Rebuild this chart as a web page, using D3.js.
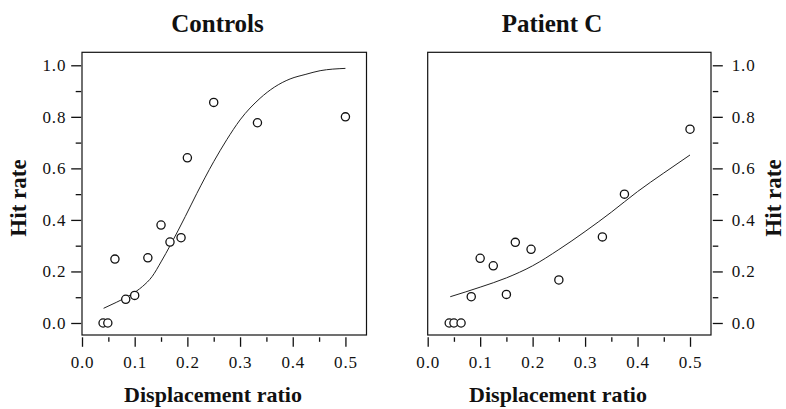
<!DOCTYPE html>
<html><head><meta charset="utf-8">
<script src="https://cdn.jsdelivr.net/npm/d3@7"></script>
<style>
body{margin:0;background:#fff;}
svg{display:block;font-family:"Liberation Serif","Times New Roman",serif;}
</style></head>
<body><svg id="c" width="786" height="409"></svg>
<script>
// ---- data ----
const panelTitles = ["Controls", "Patient C"];
const xLabel = "Displacement ratio";
const yLabel = "Hit rate";
const xMajorTicks = [0, 0.1, 0.2, 0.3, 0.4, 0.5];
const xMinorTicks = [0.05, 0.15, 0.25, 0.35, 0.45];
const yMajorTicks = [0, 0.2, 0.4, 0.6, 0.8, 1.0];
const yMinorTicks = [0.1, 0.3, 0.5, 0.7, 0.9];

const controlsX = [0.040, 0.049, 0.0625, 0.083, 0.100, 0.125, 0.150, 0.167, 0.188, 0.200, 0.250, 0.333, 0.500];
const controlsY = [0.0, 0.0, 0.248, 0.092, 0.107, 0.253, 0.380, 0.314, 0.331, 0.641, 0.856, 0.777, 0.800];
const controlsFitX = [0.041, 0.065, 0.092, 0.115, 0.133, 0.150, 0.168, 0.196, 0.218, 0.250, 0.275, 0.300, 0.338, 0.365, 0.395, 0.425, 0.452, 0.500];
const controlsFitY = [0.057, 0.080, 0.109, 0.142, 0.180, 0.237, 0.303, 0.413, 0.503, 0.626, 0.712, 0.788, 0.872, 0.915, 0.947, 0.965, 0.979, 0.988];

const patientX = [0.041, 0.050, 0.0636, 0.083, 0.100, 0.125, 0.150, 0.167, 0.197, 0.250, 0.333, 0.375, 0.500];
const patientY = [0.0, 0.0, 0.0, 0.102, 0.251, 0.222, 0.111, 0.313, 0.286, 0.167, 0.334, 0.500, 0.752];
const patientFitX = [0.043, 0.100, 0.150, 0.200, 0.250, 0.300, 0.350, 0.400, 0.450, 0.500];
const patientFitY = [0.102, 0.139, 0.175, 0.222, 0.285, 0.355, 0.430, 0.510, 0.582, 0.652];

const xDomain = [0, 0.54];
const yDomain = [-0.0466, 1.0504];

// ---- layout ----
const svg = d3.select("#c");
const panels = [
  {title: panelTitles[0], left: 82, right: 366.5, titleX: 217.5, xlabX: 213, side: "left",
   ptsX: controlsX, ptsY: controlsY, fitX: controlsFitX, fitY: controlsFitY},
  {title: panelTitles[1], left: 427.7, right: 711, titleX: 552, xlabX: 558, side: "right",
   ptsX: patientX, ptsY: patientY, fitX: patientFitX, fitY: patientFitY}
];
const plotTop = 52.3, plotBottom = 335;
const fmt = d3.format(".1f");
const ink = "#111";

panels.forEach(p => {
  const x = d3.scaleLinear().domain(xDomain).range([p.left, p.right]);
  const y = d3.scaleLinear().domain(yDomain).range([plotBottom, plotTop]);
  const g = svg.append("g");

  // frame
  g.append("rect").attr("x", p.left).attr("y", plotTop)
    .attr("width", p.right - p.left).attr("height", plotBottom - plotTop)
    .attr("fill", "none").attr("stroke", ink).attr("stroke-width", 1.2);

  // x axis (major + minor)
  const xMaj = d3.axisBottom(x).tickValues(xMajorTicks).tickSize(9.5).tickPadding(9).tickFormat(fmt);
  const xMin = d3.axisBottom(x).tickValues(xMinorTicks).tickSize(4.5).tickFormat("");
  const gxMaj = g.append("g").attr("transform", `translate(0,${plotBottom + 2.3})`).call(xMaj);
  const gxMin = g.append("g").attr("transform", `translate(0,${plotBottom + 2.3})`).call(xMin);
  [gxMaj, gxMin].forEach(a => { a.select(".domain").remove(); a.selectAll("line").attr("stroke", ink).attr("stroke-width", 1.3); });
  gxMaj.selectAll("text").attr("font-family", "Liberation Serif, serif").attr("font-size", 17)
    .attr("letter-spacing", "0.8px").attr("fill", ink).attr("dy", "0.71em");

  // y axis
  const isLeft = p.side === "left";
  const axisFn = isLeft ? d3.axisLeft : d3.axisRight;
  const yx = isLeft ? p.left - 0.8 : p.right + 1.8;
  const yMaj = axisFn(y).tickValues(yMajorTicks).tickSize(10).tickPadding(isLeft ? 5 : 9).tickFormat(fmt);
  const yMin = axisFn(y).tickValues(yMinorTicks).tickSize(5.5).tickFormat("");
  const gyMaj = g.append("g").attr("transform", `translate(${yx},0)`).call(yMaj);
  const gyMin = g.append("g").attr("transform", `translate(${yx},0)`).call(yMin);
  [gyMaj, gyMin].forEach(a => { a.select(".domain").remove(); a.selectAll("line").attr("stroke", ink).attr("stroke-width", 1.3); });
  gyMaj.selectAll("text").attr("font-family", "Liberation Serif, serif").attr("font-size", 17)
    .attr("letter-spacing", "0.8px").attr("fill", ink);

  // fit curve
  const fit = p.fitX.map((v, i) => [v, p.fitY[i]]);
  g.append("path").datum(fit)
    .attr("d", d3.line().x(d => x(d[0])).y(d => y(d[1])).curve(d3.curveMonotoneX))
    .attr("fill", "none").attr("stroke", "#222").attr("stroke-width", 1);

  // points
  const pts = p.ptsX.map((v, i) => [v, p.ptsY[i]]);
  g.selectAll("circle.pt").data(pts).enter().append("circle")
    .attr("class", "pt").attr("cx", d => x(d[0])).attr("cy", d => y(d[1])).attr("r", 4.1)
    .attr("fill", "#fff").attr("stroke", ink).attr("stroke-width", 1.3);

  // titles
  g.append("text").attr("x", p.titleX).attr("y", 31.7).attr("text-anchor", "middle")
    .attr("font-weight", "bold").attr("font-size", 25).attr("fill", ink).text(p.title);
  g.append("text").attr("x", p.xlabX).attr("y", 402).attr("text-anchor", "middle")
    .attr("font-weight", "bold").attr("font-size", 22).attr("fill", ink).text(xLabel);
  const ylx = isLeft ? 26 : 781;
  g.append("text").attr("transform", `translate(${ylx},198) rotate(-90)`).attr("text-anchor", "middle")
    .attr("font-weight", "bold").attr("font-size", 23).attr("fill", ink).text(yLabel);
});
</script>
</body></html>
